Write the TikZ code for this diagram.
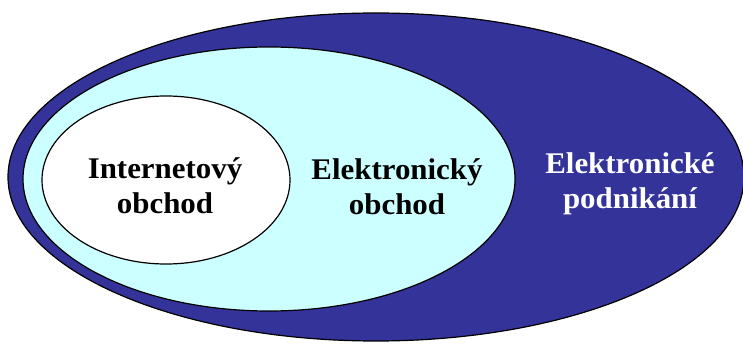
\documentclass[tikz,border=0pt]{standalone}
\usepackage{fontspec}
\setmainfont{Liberation Serif}
\definecolor{bizblue}{HTML}{333399}
\definecolor{commcyan}{HTML}{CCFFFF}
\begin{document}
\begin{tikzpicture}[x=1pt,y=-1pt,
  ring/.style={draw=black,line width=1.2pt},
  label/.style={font=\fontsize{30}{35}\selectfont\bfseries,align=center,
    anchor=base,inner sep=0pt,xscale=1.03,transform shape}]
  \useasboundingbox (0,0) rectangle (743,344);
  \fill[white] (0,0) rectangle (743,344);
  % nested sets: business > commerce > internet commerce
  \draw[ring,fill=bizblue] (376,177) ellipse [x radius=368pt,y radius=164pt];
  \draw[ring,fill=commcyan] (269,179) ellipse [x radius=246pt,y radius=132pt];
  \draw[ring,fill=white] (166,180) ellipse [x radius=124pt,y radius=84pt];
  % labels are placed by the baseline of their last line
  \node[label] (inet) at (165,214) {Internetový\\obchod};
  \node[label] (ecomm) at (397,215) {Elektronický\\obchod};
  \node[label,text=white] (ebiz) at (630,209) {Elektronické\\podnikání};
\end{tikzpicture}
\end{document}
